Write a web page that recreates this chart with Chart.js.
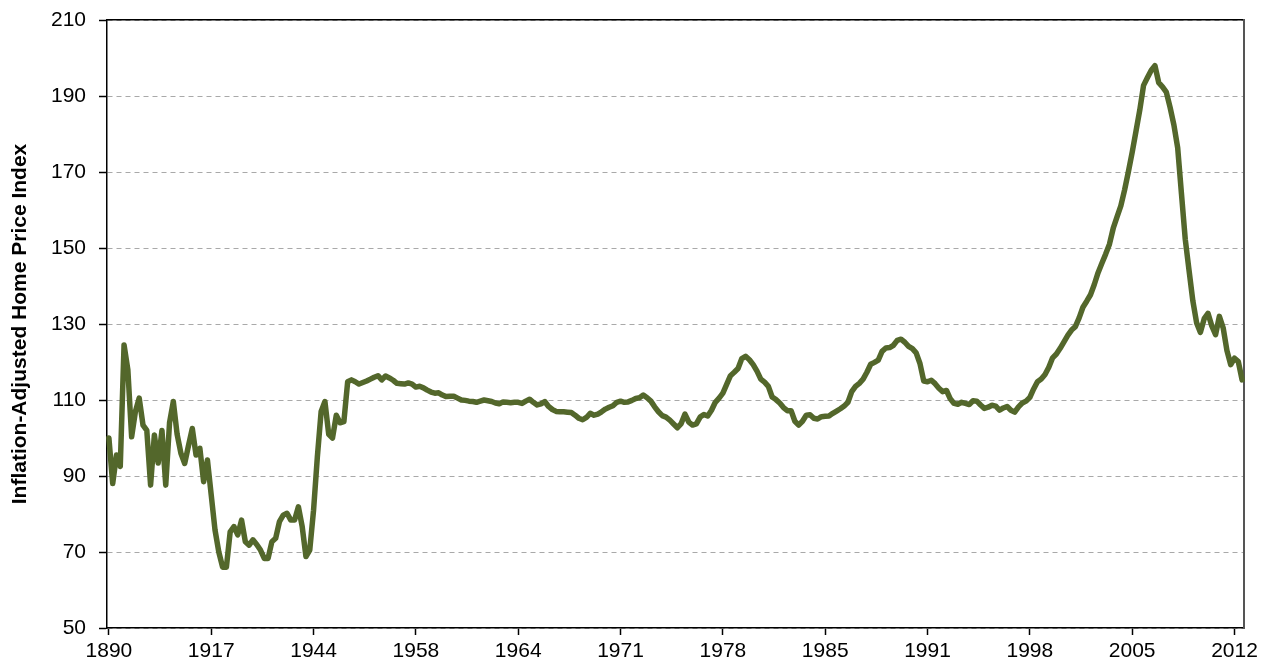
<!DOCTYPE html>
<html>
<head>
<meta charset="utf-8">
<title>Inflation-Adjusted Home Price Index</title>
<script src="https://cdn.jsdelivr.net/npm/chart.js@4.4.1/dist/chart.umd.min.js"></script>
<style>
    html, body { margin: 0; padding: 0; background: #fff; }
    #wrap { width: 1275px; height: 667px; }
</style>
</head>
<body>
<div id="wrap"><canvas id="hpi" width="1275" height="667"></canvas></div>
<script>
'use strict';

// annual values 1890-1952
const annualValues = [
    100, 88, 95.5, 92.5, 124.5, 118, 100.3, 107, 110.5, 103.4,
    102, 87.6, 100.8, 93.4, 102, 87.6, 104, 109.6, 101, 96,
    93.3, 98, 102.5, 95.5, 97.3, 88.5, 94.2, 85, 75.8, 70,
    66, 66, 75.3, 76.7, 74.5, 78.4, 72.7, 71.8, 73.2, 72,
    70.5, 68.3, 68.3, 72.7, 73.6, 78, 79.7, 80.2, 78.4, 78.4,
    81.9, 76.7, 68.8, 70.5, 81, 95, 107, 109.6, 101, 100,
    106, 104, 104.3
];

// quarterly values 1953 Q1 - 2012 Q1
const quarterlyValues = [
    114.8, 115.3, 114.8, 114.2, 114.6, 115.0, 115.5, 116.0, 116.4, 115.3,
    116.3, 115.8, 115.2, 114.4, 114.3, 114.2, 114.5, 114.2, 113.4, 113.6,
    113.2, 112.6, 112.1, 111.8, 111.9, 111.3, 110.9, 111.0, 111.0, 110.5,
    110.0, 109.9, 109.7, 109.6, 109.4, 109.7, 110.0, 109.8, 109.6, 109.2,
    109.0, 109.5, 109.4, 109.3, 109.4, 109.4, 109.1, 109.7, 110.2, 109.4,
    108.7, 109.0, 109.6, 108.3, 107.5, 107.0, 106.9, 106.9, 106.8, 106.7,
    106.0, 105.2, 104.8, 105.4, 106.5, 106.0, 106.3, 106.9, 107.6, 108.1,
    108.5, 109.4, 109.7, 109.4, 109.5, 109.9, 110.4, 110.6, 111.3, 110.6,
    109.7, 108.2, 106.9, 105.9, 105.5, 104.7, 103.7, 102.7, 103.8, 106.3,
    104.2, 103.4, 103.7, 105.5, 106.2, 105.8, 107.3, 109.4, 110.5, 111.8,
    114.1, 116.4, 117.3, 118.3, 120.9, 121.5, 120.6, 119.3, 117.6, 115.5,
    114.7, 113.6, 110.8, 110.1, 109.2, 108.0, 107.2, 107.2, 104.4, 103.4,
    104.4, 106.0, 106.1, 105.2, 105.0, 105.6, 105.7, 105.8, 106.5, 107.1,
    107.7, 108.4, 109.4, 112.2, 113.6, 114.4, 115.5, 117.3, 119.4, 119.9,
    120.5, 122.8, 123.7, 123.8, 124.4, 125.7, 126.0, 125.2, 124.1, 123.5,
    122.4, 119.6, 115.0, 114.8, 115.2, 114.3, 113.1, 112.2, 112.5, 110.3,
    109.1, 108.9, 109.4, 109.1, 108.8, 109.8, 109.7, 108.7, 107.8, 108.1,
    108.6, 108.4, 107.3, 107.9, 108.3, 107.3, 106.8, 108.2, 109.2, 109.7,
    110.7, 112.9, 114.8, 115.5, 116.7, 118.6, 121.1, 122.1, 123.6, 125.3,
    127.0, 128.4, 129.3, 131.6, 134.4, 136.0, 137.7, 140.4, 143.5, 146.0,
    148.4, 151.0, 155.2, 158.2, 161.1, 165.3, 170.1, 175.2, 180.7, 186.3,
    192.8, 194.8, 196.7, 198.0, 193.5, 192.4, 191.0, 187.0, 182.4, 176.4,
    164.3, 152.3, 144.1, 136.1, 130.3, 127.8, 131.4, 132.8, 129.5, 127.2,
    132.0, 129.0, 123.0, 119.3, 121.0, 120.1, 115.3
];

// labels shown under the x axis, one every 27 categories
const tickLabels = ['1890', '1917', '1944', '1958', '1964', '1971',
    '1978', '1985', '1991', '1998', '2005', '2012'];
const tickStep = 27;

const yTicks = [50, 70, 90, 110, 130, 150, 170, 190, 210];

// categories: years up to 1952, then quarters
const total = annualValues.length + quarterlyValues.length;
const categories = [];
for (let y = 1890; y <= 1952; y++) {
    categories.push(String(y));
}
for (let y = 1953; categories.length < total; y++) {
    for (let q = 1; q <= 4 && categories.length < total; q++) {
        categories.push(y + ' Q' + q);
    }
}

const values = annualValues.concat(quarterlyValues);

const font = 'Liberation Sans, Arial, Helvetica, sans-serif';

const ctx = document.getElementById('hpi').getContext('2d');
const chart = new Chart(ctx, {
    type: 'line',
    data: {
        labels: categories,
        datasets: [{
            label: 'Inflation-Adjusted Home Price Index',
            data: values,
            borderColor: '#53672b',
            borderWidth: 5.5,
            borderJoinStyle: 'round',
            borderCapStyle: 'round',
            pointRadius: 0,
            fill: false,
            tension: 0
        }]
    },
    options: {
        responsive: false,
        animation: false,
        layout: {
            padding: { left: 0, right: 31, top: 20, bottom: 0 }
        },
        plugins: {
            legend: { display: false },
            tooltip: { enabled: false }
        },
        scales: {
            x: {
                type: 'category',
                position: 'bottom',
                offset: true,
                afterBuildTicks: (axis) => {
                    axis.ticks = axis.ticks.filter(t => t.value % tickStep === 0);
                },
                afterFit: (axis) => { axis.height = 39; },
                grid: {
                    drawOnChartArea: false,
                    drawTicks: true,
                    tickLength: 7,
                    tickColor: '#000',
                    tickWidth: 1.5
                },
                border: { display: true, color: '#000', width: 1.5 },
                ticks: {
                    autoSkip: false,
                    maxRotation: 0,
                    padding: 4,
                    color: '#000',
                    font: { family: font, size: 21 },
                    callback: (value) => tickLabels[value / tickStep]
                }
            },
            y: {
                type: 'linear',
                position: 'left',
                min: 50,
                max: 210,
                afterBuildTicks: (axis) => {
                    axis.ticks = yTicks.map(v => ({ value: v }));
                },
                afterFit: (axis) => {
                    axis.width = 107;
                    axis.paddingTop = 0;
                    axis.paddingBottom = 0;
                },
                grid: {
                    color: '#a9a9a9',
                    lineWidth: 1,
                    drawTicks: true,
                    tickLength: 8,
                    tickColor: '#000',
                    tickWidth: 1.5
                },
                border: { display: true, color: '#000', width: 1.5, dash: [5, 4] },
                ticks: {
                    padding: 13,
                    color: '#000',
                    font: { family: font, size: 21 }
                },
                title: {
                    display: true,
                    text: 'Inflation-Adjusted Home Price Index',
                    color: '#000',
                    padding: { top: 8, bottom: 0 },
                    font: { family: font, size: 21, weight: 'bold' }
                }
            },
            xTop: {
                type: 'category',
                position: 'top',
                afterFit: (axis) => { axis.height = 0; },
                grid: { display: false, drawTicks: false },
                ticks: { display: false },
                border: { display: true, color: '#000', width: 1.5 }
            },
            yRight: {
                type: 'linear',
                position: 'right',
                min: 50,
                max: 210,
                afterFit: (axis) => { axis.width = 0; },
                grid: { display: false, drawTicks: false },
                ticks: { display: false },
                border: { display: true, color: '#555', width: 2 }
            }
        }
    }
});
</script>
</body>
</html>
